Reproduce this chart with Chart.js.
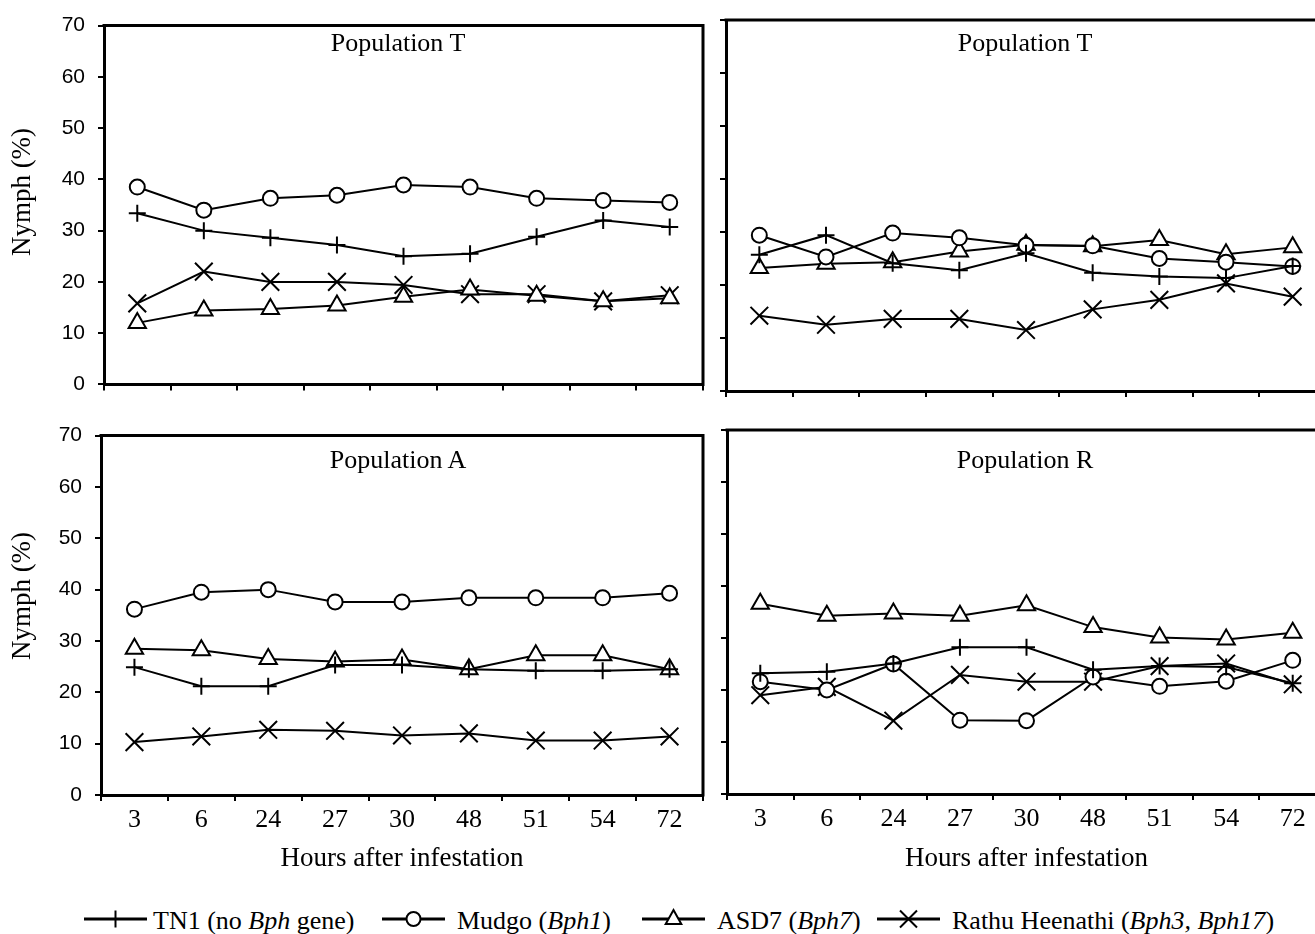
<!DOCTYPE html>
<html><head><meta charset="utf-8">
<script src="https://cdn.jsdelivr.net/npm/chart.js@4.4.0/dist/chart.umd.min.js"></script>
<style>
html,body{margin:0;padding:0;background:#fff;width:1315px;height:934px;overflow:hidden;position:relative;}
canvas{position:absolute;}
.ptitle{position:absolute;font-family:"Liberation Serif";font-size:26px;line-height:26px;color:#000;white-space:nowrap;transform:translateX(-50%);}
.ytitle{position:absolute;font-family:"Liberation Serif";font-size:27px;line-height:27px;color:#000;white-space:nowrap;transform:translate(-50%,-50%) rotate(-90deg);}
.legtxt{position:absolute;top:908px;font-family:"Liberation Serif";font-size:26px;line-height:26px;color:#000;white-space:nowrap;}
.legsym{position:absolute;top:906px;}
</style></head><body>
<canvas id="tl" width="720" height="410" style="left:0;top:0"></canvas>
<canvas id="tr" width="640" height="410" style="left:705px;top:0"></canvas>
<canvas id="bl" width="720" height="475" style="left:0;top:410px"></canvas>
<canvas id="br" width="640" height="475" style="left:705px;top:410px"></canvas>
<div id="overlay"></div>
<script>
// ---- data ----
const hours = ['3','6','24','27','30','48','51','54','72'];
const panelTitles = ['Population T','Population T','Population A','Population R'];
const yAxisTitle = 'Nymph (%)';
const xAxisTitle = 'Hours after infestation';
const seriesLegend = ['TN1 (no <i>Bph</i> gene)','Mudgo (<i>Bph1</i>)','ASD7 (<i>Bph7</i>)','Rathu Heenathi (<i>Bph3, Bph17</i>)'];
const seriesNames = ['TN1 (no Bph gene)','Mudgo (Bph1)','ASD7 (Bph7)','Rathu Heenathi (Bph3, Bph17)'];

// Panel 1 (top-left, Population T)
const tn1_p1   = [33.4, 30.0, 28.6, 27.2, 25.0, 25.5, 28.8, 32.0, 30.7];
const mudgo_p1 = [38.5, 34.0, 36.3, 36.9, 38.9, 38.5, 36.3, 35.9, 35.5];
const asd7_p1  = [12.0, 14.4, 14.7, 15.4, 17.1, 18.5, 17.3, 16.2, 16.8];
const rathu_p1 = [15.8, 22.0, 20.0, 20.0, 19.4, 17.6, 17.6, 16.2, 17.4];
// Panel 2 (top-right, Population T)
const tn1_p2   = [25.7, 29.4, 24.1, 22.8, 26.0, 22.3, 21.6, 21.3, 23.6];
const mudgo_p2 = [29.4, 25.3, 29.8, 28.9, 27.5, 27.4, 25.0, 24.3, 23.5];
const asd7_p2  = [23.2, 24.0, 24.3, 26.3, 27.6, 27.3, 28.5, 25.8, 27.1];
const rathu_p2 = [14.2, 12.5, 13.6, 13.6, 11.5, 15.4, 17.2, 20.3, 17.8];
// Panel 3 (bottom-left, Population A)
const tn1_p3   = [24.9, 21.2, 21.2, 25.3, 25.3, 24.5, 24.2, 24.2, 24.5];
const mudgo_p3 = [36.2, 39.5, 40.0, 37.6, 37.6, 38.4, 38.4, 38.4, 39.3];
const asd7_p3  = [28.5, 28.2, 26.5, 26.0, 26.4, 24.5, 27.2, 27.2, 24.5];
const rathu_p3 = [10.3, 11.4, 12.7, 12.5, 11.6, 12.0, 10.6, 10.6, 11.4];
// Panel 4 (bottom-right, Population R)
const tn1_p4   = [23.2, 23.5, 25.1, 28.2, 28.2, 23.9, 24.6, 24.4, 21.3];
const mudgo_p4 = [21.6, 20.0, 25.0, 14.2, 14.1, 22.5, 20.7, 21.7, 25.7];
const asd7_p4  = [36.6, 34.3, 34.7, 34.3, 36.3, 32.1, 30.1, 29.7, 31.0];
const rathu_p4 = [19.0, 20.6, 14.1, 22.9, 21.6, 21.6, 24.6, 25.1, 21.1];

// ---- styles ----
const seriesStyle = [
  {pointStyle:'cross', pointRadius:8.5, bg:'#000'},
  {pointStyle:'circle', pointRadius:7.5, bg:'#fff'},
  {pointStyle:'triangle', pointRadius:10, bg:'#fff'},
  {pointStyle:'crossRot', pointRadius:12.5, bg:'#000'}
];

const framePlugin = {
  id:'frame',
  beforeDatasetsDraw(chart){
    const {ctx, chartArea:{left,top,right,bottom}} = chart;
    ctx.save();
    ctx.strokeStyle='#000'; ctx.lineWidth=3;
    ctx.beginPath();
    ctx.moveTo(left-1.5, top); ctx.lineTo(right, top); ctx.lineTo(right, bottom+1.5);
    ctx.stroke();
    ctx.restore();
  }
};

function makePanel(id, series, cfg){
  const datasets = series.map((vals,i)=>({
    label: seriesNames[i],
    data: vals,
    borderColor:'#000', borderWidth:2,
    pointStyle: seriesStyle[i].pointStyle,
    pointRadius: seriesStyle[i].pointRadius,
    pointBorderColor:'#000', pointBorderWidth:2,
    pointBackgroundColor: seriesStyle[i].bg,
    tension:0, fill:false
  }));
  new Chart(document.getElementById(id), {
    type:'line',
    data:{labels:hours, datasets},
    options:{
      responsive:false, animation:false, events:[],
      layout:{padding:{top:cfg.padTop, right:cfg.padRight, left:0, bottom:0}},
      plugins:{legend:{display:false}, tooltip:{enabled:false}, title:{display:false}},
      scales:{
        x:{
          type:'category', offset:true,
          ticks:{display:cfg.showX, color:'#000', font:{family:'Liberation Serif', size:26}, padding:4, maxRotation:0, autoSkip:false},
          grid:{display:true, offset:true, drawOnChartArea:false, drawTicks:true, tickLength:6, color:'#000', lineWidth:2},
          border:{display:true, color:'#000', width:3},
          title:{display:cfg.showX, text:xAxisTitle, color:'#000', font:{family:'Liberation Serif', size:27}, padding:{top:0,bottom:10}},
          afterFit:(s)=>{ s.height = cfg.xHeight; }
        },
        y:{
          min:0, max:70,
          ticks:{stepSize:10, display:cfg.showY, color:'#000', font:{family:'Liberation Sans', size:21}, padding:13},
          grid:{display:true, drawOnChartArea:false, drawTicks:true, tickLength:6, color:'#000', lineWidth:2},
          border:{display:true, color:'#000', width:3},
          title:{display:false},
          afterFit:(s)=>{ s.width = cfg.yWidth; }
        }
      }
    },
    plugins:[framePlugin]
  });
}

makePanel('tl', [tn1_p1, mudgo_p1, asd7_p1, rathu_p1], {padTop:23, padRight:17, yWidth:104, xHeight:17, showX:false, showY:true});
makePanel('tr', [tn1_p2, mudgo_p2, asd7_p2, rathu_p2], {padTop:20, padRight:19, yWidth:21, xHeight:19, showX:false, showY:false});
makePanel('bl', [tn1_p3, mudgo_p3, asd7_p3, rathu_p3], {padTop:22, padRight:17, yWidth:101, xHeight:90, showX:true, showY:true});
makePanel('br', [tn1_p4, mudgo_p4, asd7_p4, rathu_p4], {padTop:20, padRight:19, yWidth:22, xHeight:91, showX:true, showY:false});

// ---- panel titles, y-axis titles & legend (HTML text) ----
const ov = document.getElementById('overlay');
const titlePos = [[398,30],[1025,30],[398,447],[1025,447]];
panelTitles.forEach((t,i)=>{
  const d=document.createElement('div'); d.className='ptitle';
  d.style.left=titlePos[i][0]+'px'; d.style.top=titlePos[i][1]+'px';
  d.textContent=t; ov.appendChild(d);
});
[[21,192],[21,596]].forEach(p=>{
  const d=document.createElement('div'); d.className='ytitle';
  d.style.left=p[0]+'px'; d.style.top=p[1]+'px';
  d.textContent=yAxisTitle; ov.appendChild(d);
});
const legSymLeft = [84, 382, 642, 877];
const legTxtLeft = [153, 457, 717, 952];
const symSvg = [
  '<line x1="0" y1="13" x2="63" y2="13" stroke="#000" stroke-width="3"/><line x1="23" y1="13" x2="40" y2="13" stroke="#000" stroke-width="2"/><line x1="31.5" y1="4.5" x2="31.5" y2="21.5" stroke="#000" stroke-width="2"/>',
  '<line x1="0" y1="13" x2="63" y2="13" stroke="#000" stroke-width="3"/><circle cx="31.5" cy="13" r="7" fill="#fff" stroke="#000" stroke-width="2"/>',
  '<line x1="0" y1="13" x2="63" y2="13" stroke="#000" stroke-width="3"/><polygon points="31.5,4 39.3,18 23.7,18" fill="#fff" stroke="#000" stroke-width="2"/>',
  '<line x1="0" y1="13" x2="63" y2="13" stroke="#000" stroke-width="3"/><line x1="23" y1="4.5" x2="40" y2="21.5" stroke="#000" stroke-width="2"/><line x1="40" y1="4.5" x2="23" y2="21.5" stroke="#000" stroke-width="2"/>'
];
seriesLegend.forEach((t,i)=>{
  const s=document.createElement('div'); s.className='legsym'; s.style.left=legSymLeft[i]+'px';
  s.innerHTML='<svg width="63" height="26" viewBox="0 0 63 26">'+symSvg[i]+'</svg>';
  ov.appendChild(s);
  const d=document.createElement('div'); d.className='legtxt'; d.style.left=legTxtLeft[i]+'px';
  d.innerHTML=t; ov.appendChild(d);
});
</script>
</body></html>
